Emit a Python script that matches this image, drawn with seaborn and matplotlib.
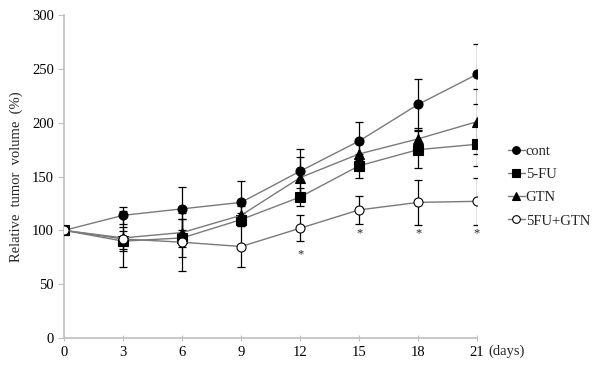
import matplotlib
matplotlib.use("Agg")
import matplotlib.pyplot as plt
import seaborn as sns
import pandas as pd

# --- data ---
days = [0, 3, 6, 9, 12, 15, 18, 21]
groups = ["cont", "5-FU", "GTN", "5FU+GTN"]

cont_mean = [100, 114, 120, 126, 155, 183, 217, 245]
cont_sd = [0, 8, 20, 20, 21, 18, 24, 28]
fu_mean = [100, 90, 93, 110, 131, 160, 175, 180]
fu_sd = [0, 9, 18, 6, 8, 11, 17, 20]
gtn_mean = [100, 93, 98, 114, 149, 171, 185, 201]
gtn_sd = [0, 10, 13, 9, 19, 10, 10, 30]
combo_mean = [100, 92, 89, 85, 102, 119, 126, 127]
combo_sd = [0, 26, 27, 19, 12, 13, 21, 22]

star_days = [12, 15, 18, 21]
star_y = [78, 97, 97, 97]

means = {"cont": cont_mean, "5-FU": fu_mean, "GTN": gtn_mean, "5FU+GTN": combo_mean}
sds = {"cont": cont_sd, "5-FU": fu_sd, "GTN": gtn_sd, "5FU+GTN": combo_sd}
markers = {"cont": "o", "5-FU": "s", "GTN": "^", "5FU+GTN": "o"}
faces = {"cont": "black", "5-FU": "black", "GTN": "black", "5FU+GTN": "white"}

sns.set_style("ticks")
plt.rcParams["font.family"] = ["Liberation Serif", "DejaVu Serif"]

fig = plt.figure(figsize=(6, 3.69), dpi=100)
ax = fig.add_axes([0.107, 0.084, 0.688, 0.875])

for g in groups:
    ax.errorbar(days, means[g], yerr=sds[g], fmt="none", ecolor="black",
                elinewidth=0.9, capsize=3, capthick=0.9, zorder=2)

for g in groups:
    df = pd.DataFrame({"day": days, "val": means[g]})
    sns.lineplot(data=df, x="day", y="val", ax=ax, color="#7a7a7a", linewidth=1,
                 marker=markers[g], markersize=6.5 if markers[g] != "^" else 7,
                 markerfacecolor=faces[g], markeredgecolor="black",
                 markeredgewidth=0.8, label=g, zorder=3)

for d, y in zip(star_days, star_y):
    ax.text(d, y, "*", ha="center", va="center", fontsize=9)

ax.set_xlim(0, 21)
ax.set_ylim(0, 300)
ax.set_xticks(days)
ax.set_yticks(range(0, 301, 50))
ax.tick_params(axis="both", labelsize=10.5, colors="#bfbfbf", labelcolor="black", length=4)
ax.tick_params(axis="x", direction="inout")
for s in ["top", "right"]:
    ax.spines[s].set_visible(False)
for s in ["left", "bottom"]:
    ax.spines[s].set_color("#bfbfbf")
    ax.spines[s].set_linewidth(1.2)

ax.set_xlabel("")
ax.set_ylabel("Relative  tumor  volume  (%)", fontsize=10.5, labelpad=6)
ax.annotate("(days)", xy=(1, 0), xycoords="axes fraction", xytext=(8, -5),
            textcoords="offset points", ha="left", va="top", fontsize=10.5)

ax.legend(loc="center left", bbox_to_anchor=(1.06, 0.47), frameon=False,
          fontsize=10.5, handlelength=1.2, handletextpad=0.05, labelspacing=0.68,
          markerscale=0.85, borderaxespad=0)

fig.savefig("out.png", dpi=100)
